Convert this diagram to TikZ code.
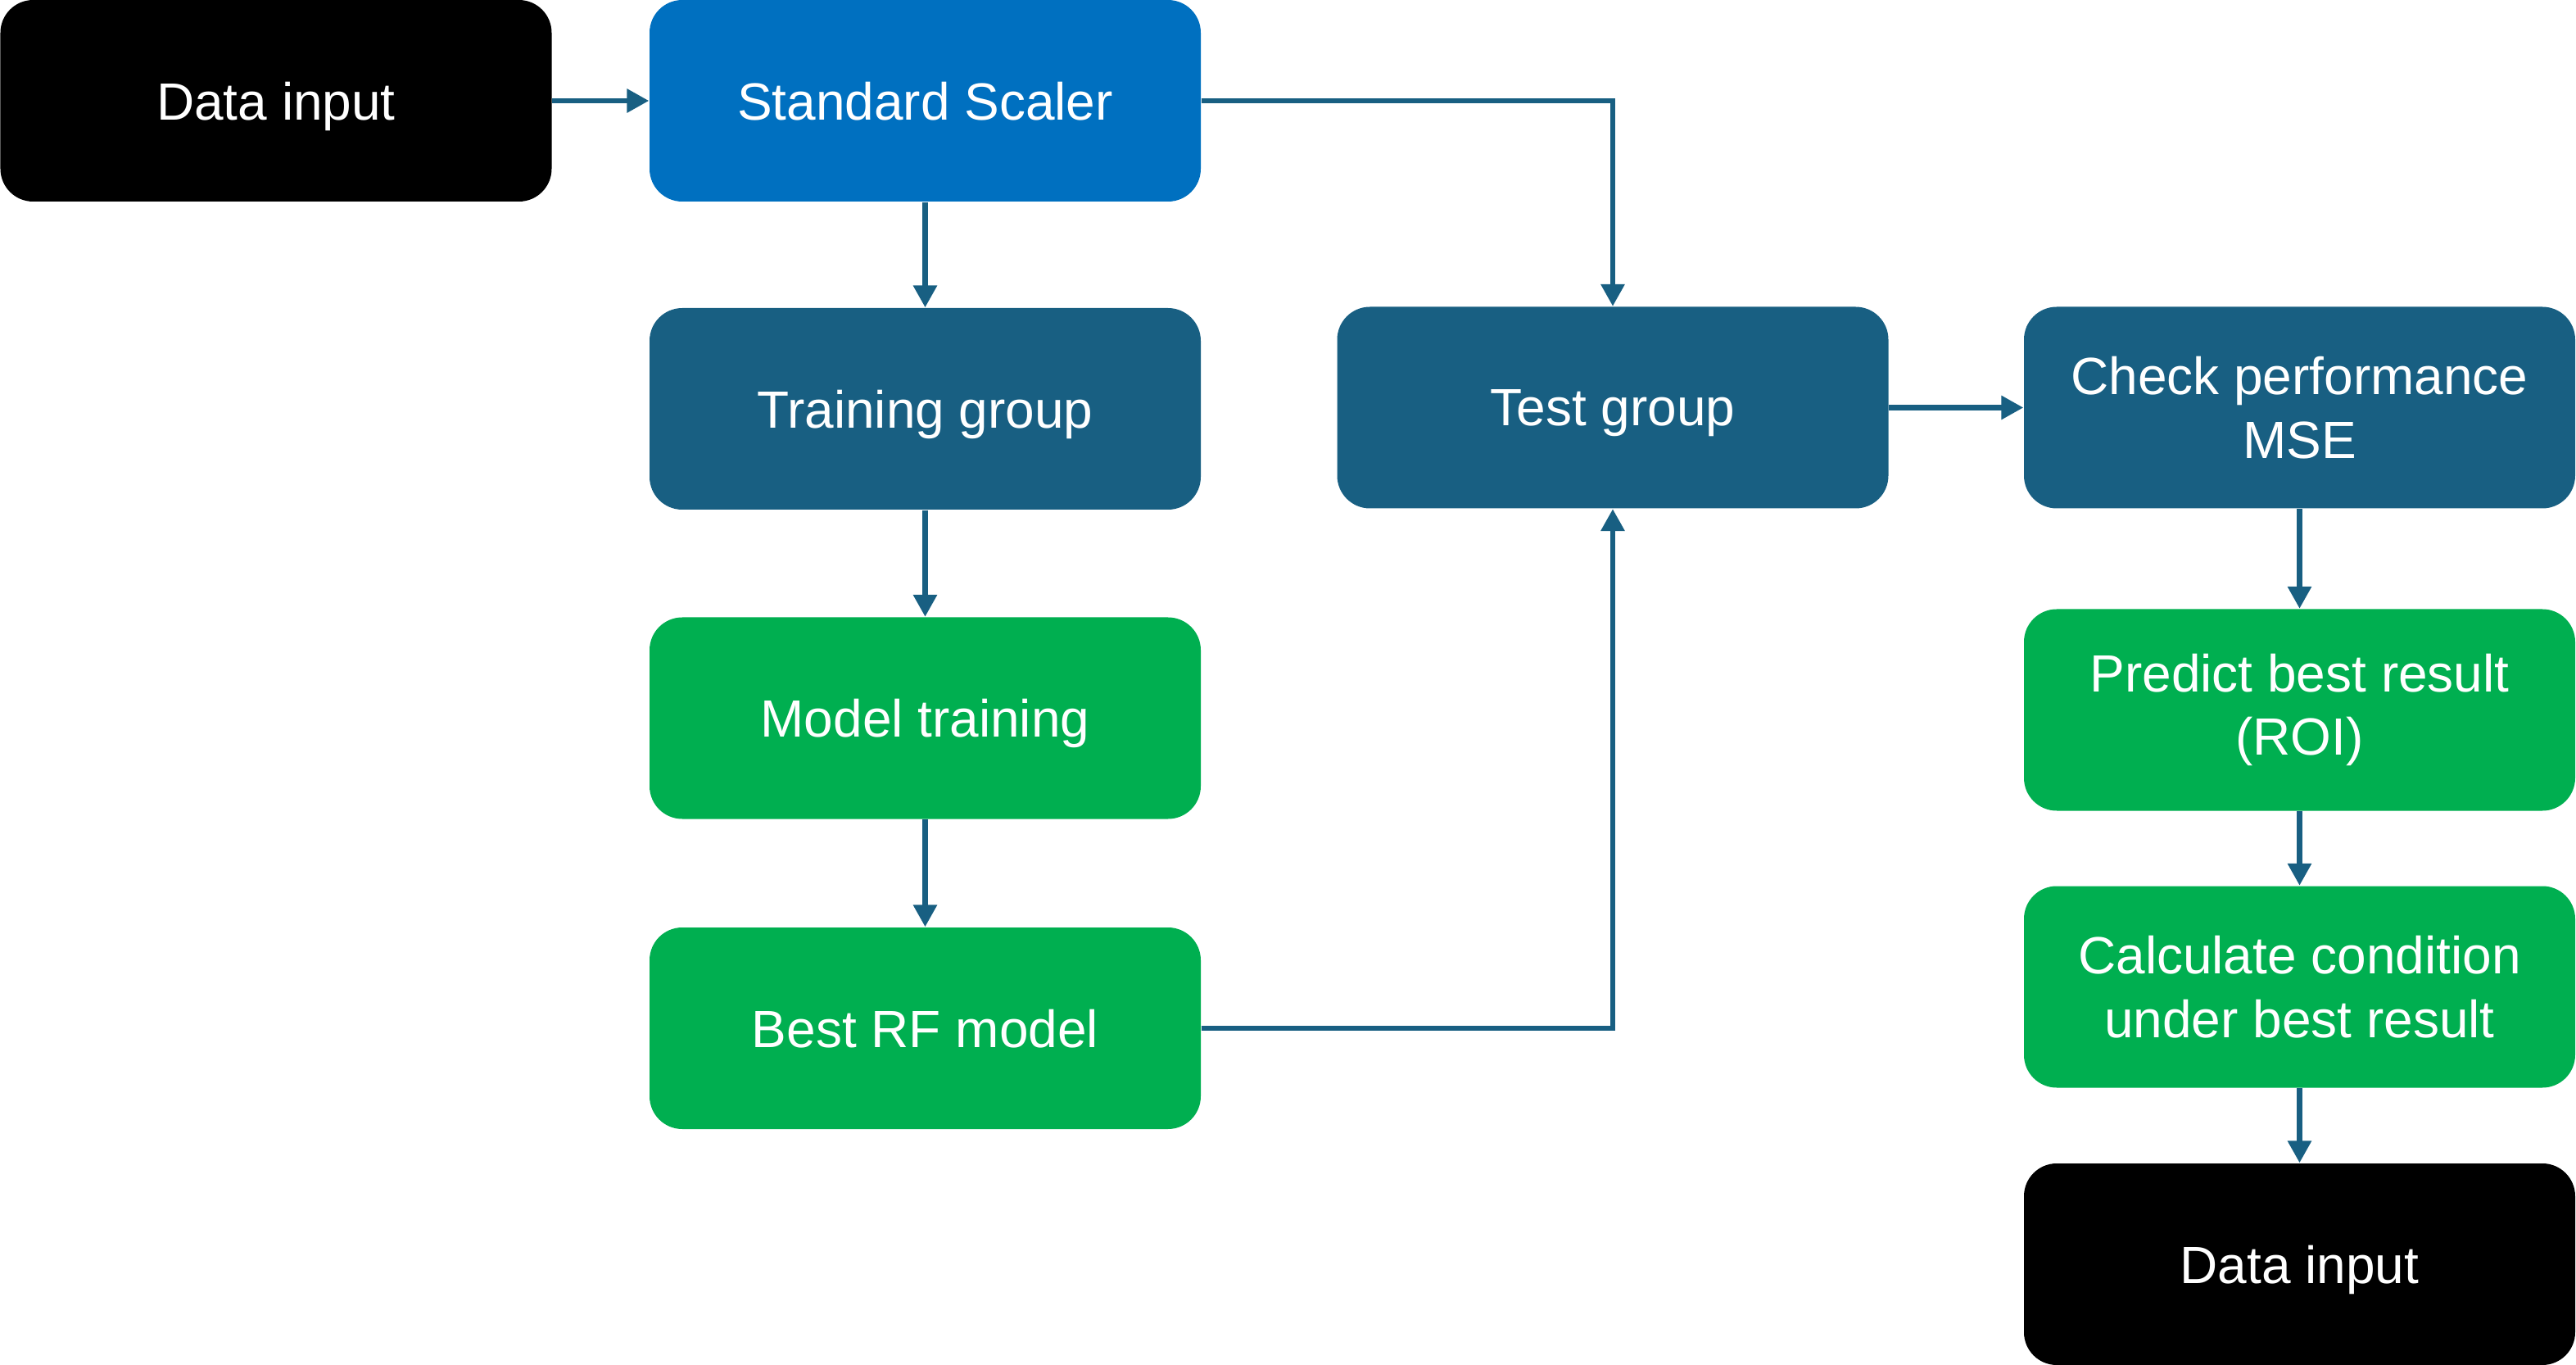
\documentclass[tikz,border=0pt]{standalone}
\usepackage{fontspec}
\setmainfont{Liberation Sans}
\usetikzlibrary{arrows.meta}
\definecolor{cblack}{HTML}{000000}
\definecolor{cblue}{HTML}{0070C0}
\definecolor{cteal}{HTML}{185F82}
\definecolor{cgreen}{HTML}{00AF50}
\tikzset{
  box/.style={rectangle, rounded corners=0.4cm, minimum width=6.73cm, minimum height=2.46cm,
    inner sep=0pt, text=white, align=center, font=\fontsize{18.2}{22}\selectfont},
  oneline/.style={text depth=0pt},
  blackbox/.style={box, fill=cblack},
  bluebox/.style={box, fill=cblue},
  tealbox/.style={box, fill=cteal},
  greenbox/.style={box, fill=cgreen},
  conn/.style={draw=cteal, line width=1.8pt, -{Triangle[length=0.27cm, width=0.28cm]}}
}
\begin{document}
\begin{tikzpicture}
\useasboundingbox (0,0) rectangle (31.45,-16.66);
\node[blackbox, oneline] (d1) at (3.37,-1.23) {Data input};
\node[bluebox, oneline] (ss) at (11.295,-1.23) {Standard Scaler};
\node[tealbox, oneline] (tg) at (11.295,-4.99) {Training group};
\node[greenbox, oneline] (mt) at (11.295,-8.765) {Model training};
\node[greenbox, oneline] (rf) at (11.295,-12.55) {Best RF model};
\node[tealbox, oneline] (test) at (19.69,-4.975) {Test group};
\node[tealbox] (chk) at (28.075,-4.975) {Check performance\\MSE};
\node[greenbox] (pred) at (28.075,-8.665) {Predict best result\\(ROI)};
\node[greenbox] (calc) at (28.075,-12.045) {Calculate condition\\under best result};
\node[blackbox, oneline] (d2) at (28.075,-15.43) {Data input};

\draw[conn] (d1) -- (ss);
\draw[conn] (ss) -- (tg);
\draw[conn] (tg) -- (mt);
\draw[conn] (mt) -- (rf);
\draw[conn] (ss.east) -| (test.north);
\draw[conn] (rf.east) -| (test.south);
\draw[conn] (test) -- (chk);
\draw[conn] (chk) -- (pred);
\draw[conn] (pred) -- (calc);
\draw[conn] (calc) -- (d2);
\end{tikzpicture}
\end{document}
